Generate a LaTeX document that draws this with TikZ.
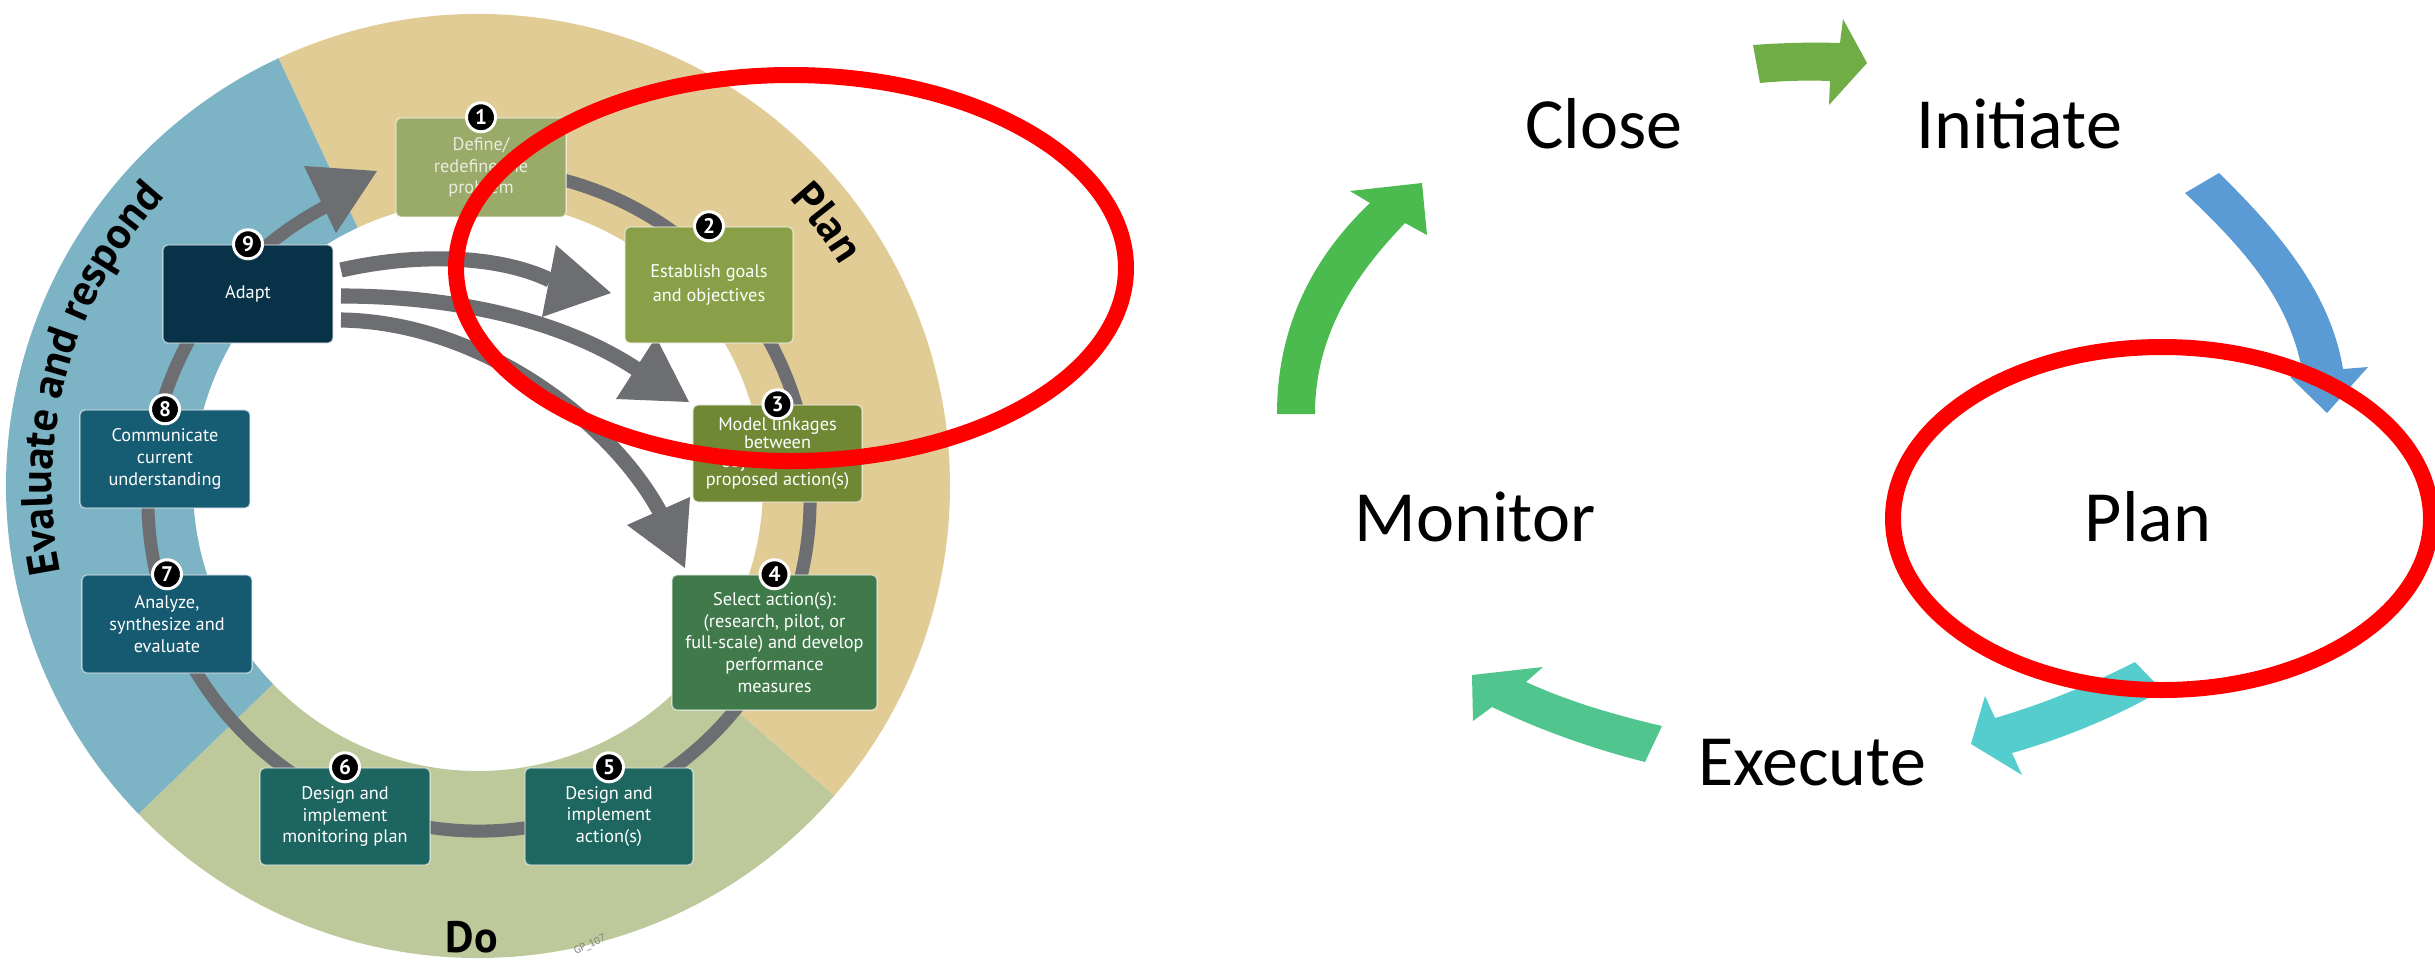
\documentclass[tikz,border=0pt]{standalone}
\usepackage{fontspec}
\setmainfont{PT Sans}
\newfontfamily\carlito{Carlito}
\newfontfamily\ptsans{PT Sans}
\usetikzlibrary{decorations.text}
\definecolor{ringtan}{RGB}{226,204,150}
\definecolor{ringblue}{RGB}{125,180,197}
\definecolor{ringgreen}{RGB}{190,201,155}
\definecolor{graypath}{RGB}{109,110,113}
\definecolor{bxone}{RGB}{154,170,104}
\definecolor{bxtwo}{RGB}{138,160,72}
\definecolor{bxthree}{RGB}{112,136,52}
\definecolor{bxfour}{RGB}{64,122,74}
\definecolor{bxfive}{RGB}{30,103,96}
\definecolor{bxsix}{RGB}{29,101,96}
\definecolor{bxseven}{RGB}{21,90,112}
\definecolor{bxeight}{RGB}{22,92,115}
\definecolor{bxnine}{RGB}{8,50,72}
\definecolor{aolive}{RGB}{112,173,71}
\definecolor{ablue}{RGB}{91,155,213}
\definecolor{acyan}{RGB}{86,205,205}
\definecolor{ateal}{RGB}{80,198,142}
\definecolor{agreen}{RGB}{75,187,80}
\definecolor{redc}{RGB}{255,0,0}
\newcommand\lblfont{\ptsans\bfseries\fontsize{12.5}{14}\selectfont}
\tikzset{
  stepbox/.style={rounded corners=1.4pt, draw=white, draw opacity=0.55, line width=0.4pt,
    text=white, align=center, inner sep=0pt, font=\ptsans\fontsize{5.2}{6.2}\selectfont},
  badge/.style={circle, fill=black, draw=white, line width=0.85pt, minimum size=0.29cm,
    inner sep=0pt, text=white, font=\ptsans\bfseries\fontsize{6}{6}\selectfont},
  ringline/.style={draw=graypath, line width=3.7pt},
  bigline/.style={draw=graypath, line width=4.3pt},
  cyclelabel/.style={font=\carlito\fontsize{20.5}{24}\selectfont, anchor=base, inner sep=0pt},
  redring/.style={draw=redc, line width=4.55pt},
}
\begin{document}
\begin{tikzpicture}[x=0.01cm, y=-0.01cm]
\useasboundingbox (0,0) rectangle (2435,960);
\fill[white] (0,0) rectangle (2435,960);

% ---- ring sectors
\begin{scope}[shift={(478,486)}]
  \fill[ringtan] (-115:472) arc[start angle=-115,end angle=41,radius=472]
     -- (41:285) arc[start angle=41,end angle=-115,radius=285] -- cycle;
  \fill[ringgreen] (41:472) arc[start angle=41,end angle=136,radius=472]
     -- (136:285) arc[start angle=136,end angle=41,radius=285] -- cycle;
  \fill[ringblue] (136:472) arc[start angle=136,end angle=245,radius=472]
     -- (245:285) arc[start angle=245,end angle=136,radius=285] -- cycle;
  \path[decorate, decoration={text along path, text={|\lblfont|Evaluate and respond}, text align=center}]
     (150:426) arc[start angle=150,end angle=241,radius=426];
  \path[decorate, decoration={text along path, text={|\lblfont|Plan}, text align=center}]
     (303:424) arc[start angle=303,end angle=343,radius=424];
\end{scope}
\node[font=\lblfont, inner sep=0pt] (dolbl) at (472,937) {Do};
\node[font=\ptsans\fontsize{3}{3}\selectfont, text=gray, rotate=25, inner sep=0pt] (gpid) at (590,945) {GP\_107};

% ---- gray cycle
\draw[ringline] (479,500) ++(245:331) arc[start angle=245,end angle=-100,radius=331];
\fill[graypath] (304,166) -- (377,171) -- (336,233) -- cycle;

% ---- arrows from Adapt
\coordinate (aas) at (341,270);
\coordinate (abs) at (341,296);
\coordinate (acs) at (341,320);
\coordinate (aae) at (550,280);
\coordinate (abe) at (638,370);
\coordinate (ace) at (660,512);
\draw[bigline] (aas) .. controls (420,252) and (500,256) .. (aae);
\fill[graypath] (556,245) -- (611,293) -- (542,317) -- cycle;
\draw[bigline] (abs) .. controls (450,296) and (560,318) .. (abe);
\fill[graypath] (616,399) -- (689,402) -- (656,337) -- cycle;
\draw[bigline] (acs) .. controls (480,322) and (610,420) .. (ace);
\fill[graypath] (627,525) -- (685,568) -- (690,497) -- cycle;

% ---- boxes
\node[stepbox, fill=bxone, text=white!78!bxone, minimum width=1.70cm, minimum height=0.99cm] (b1) at (481,167.5) {Define/\\redefine the\\problem};
\node[stepbox, fill=bxtwo, minimum width=1.68cm, minimum height=1.16cm, font=\ptsans\fontsize{5.2}{6.6}\selectfont] (b2) at (709,285) {Establish goals\\and objectives};
\node[stepbox, fill=bxthree, minimum width=1.69cm, minimum height=0.97cm, font=\ptsans\fontsize{5.2}{5.3}\selectfont] (b3) at (777.5,453.5) {Model linkages\\between\\objectives and\\proposed action(s)};
\node[stepbox, fill=bxfour, minimum width=2.05cm, minimum height=1.35cm] (b4) at (774.5,642.5) {Select action(s):\\(research, pilot, or\\full-scale) and develop\\performance\\measures};
\node[stepbox, fill=bxfive, minimum width=1.68cm, minimum height=0.97cm] (b5) at (609,816.5) {Design and\\implement\\action(s)};
\node[stepbox, fill=bxsix, minimum width=1.70cm, minimum height=0.97cm] (b6) at (345,816.5) {Design and\\implement\\monitoring plan};
\node[stepbox, fill=bxseven, minimum width=1.70cm, minimum height=0.98cm] (b7) at (167,624) {Analyze,\\synthesize and\\evaluate};
\node[stepbox, fill=bxeight, minimum width=1.70cm, minimum height=0.98cm] (b8) at (165,459) {Communicate\\current\\understanding};
\node[stepbox, fill=bxnine, minimum width=1.70cm, minimum height=0.98cm] (b9) at (248,294) {Adapt};

\foreach \i in {1,...,9} { \node[badge] (n\i) at (b\i.north) {\i}; }

% ---- right cycle
\node[cyclelabel] (close) at (1604,148) {Close};
\node[cyclelabel] (initiate) at (2019,148) {Initiate};
\node[cyclelabel] (monitor) at (1475,541) {Monitor};
\node[cyclelabel] (plan) at (2148,541) {Plan};
\node[cyclelabel] (execute) at (1812,785) {Execute};

\fill[aolive] (1753,45) .. controls (1780,43) and (1810,42) .. (1840,43) -- (1843,19) -- (1867,63)
  -- (1829,105) -- (1830,81) .. controls (1805,80) and (1780,81) .. (1760,83) -- cycle;
\fill[ablue] (2185,193) -- (2219,173) .. controls (2275,228) and (2330,290) .. (2343,369)
  -- (2368,367) -- (2327,413) -- (2290,377) -- (2303,375) .. controls (2290,300) and (2245,250) .. (2185,193) -- cycle;
\fill[acyan] (2135,662) .. controls (2090,685) and (2040,705) .. (1995,718) -- (1985,696) -- (1971,744)
  -- (2022,775) -- (2012,753) .. controls (2065,738) and (2120,715) .. (2162,690) -- cycle;
\fill[ateal] (1662,726) .. controls (1615,715) and (1570,702) .. (1526,682) -- (1543,667) -- (1472,675)
  -- (1473,721) -- (1492,707) .. controls (1540,730) and (1590,748) .. (1645,762) -- cycle;
\fill[agreen] (1315,414) -- (1277,414) .. controls (1277,330) and (1310,260) .. (1370,203) -- (1350,191)
  -- (1422,183) -- (1427,235) -- (1405,223) .. controls (1360,270) and (1315,330) .. (1315,414) -- cycle;

% ---- red highlight ellipses
\coordinate (eleft) at (791,268);
\coordinate (eright) at (2162,518.5);
\draw[redring] (eleft) ellipse [x radius=335, y radius=193];
\draw[redring] (eright) ellipse [x radius=269, y radius=171.5];
\end{tikzpicture}
\end{document}
